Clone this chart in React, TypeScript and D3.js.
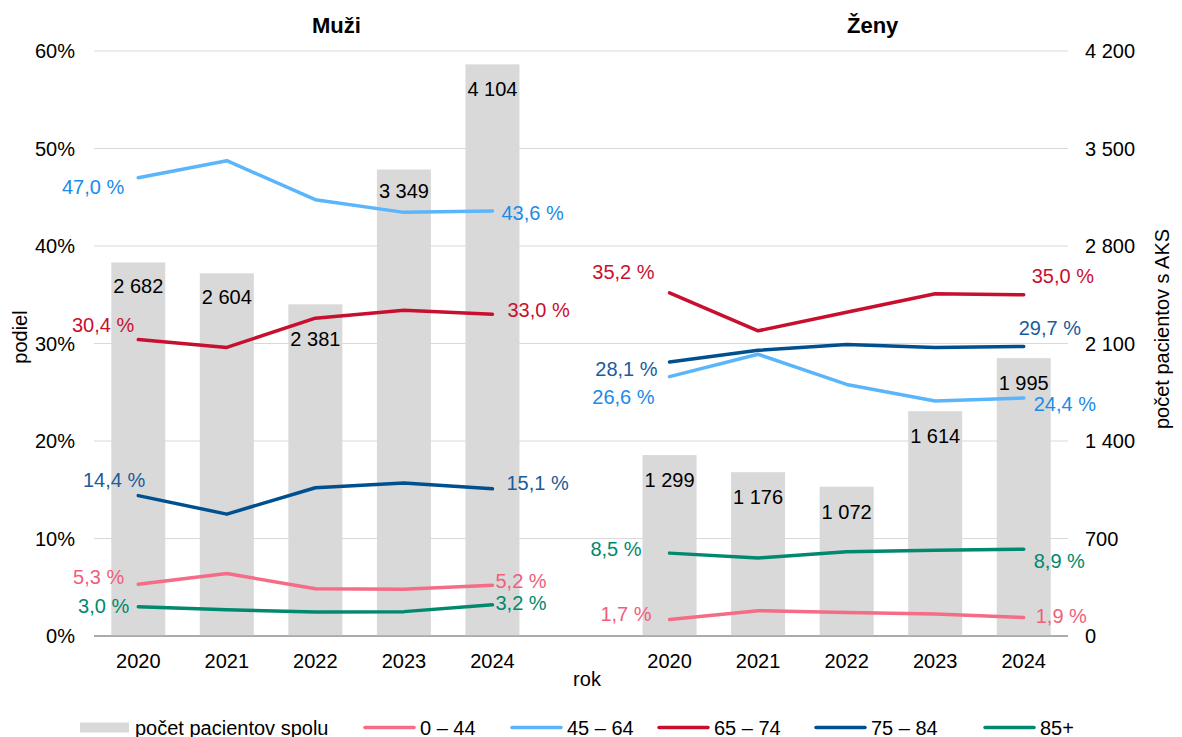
import React from "react";
import * as d3 from "d3";

const years = ["2020", "2021", "2022", "2023", "2024"];
const groups = ["Muži", "Ženy"];
const totalsMuzi = [2682, 2604, 2381, 3349, 4104];
const totalsZeny = [1299, 1176, 1072, 1614, 1995];
const age0_44Muzi = [5.3, 6.4, 4.85, 4.8, 5.2];
const age45_64Muzi = [47.0, 48.75, 44.75, 43.45, 43.6];
const age65_74Muzi = [30.4, 29.6, 32.6, 33.4, 33.0];
const age75_84Muzi = [14.4, 12.5, 15.2, 15.7, 15.1];
const age85Muzi = [3.0, 2.7, 2.45, 2.5, 3.2];
const age0_44Zeny = [1.7, 2.6, 2.4, 2.25, 1.9];
const age45_64Zeny = [26.6, 28.9, 25.8, 24.1, 24.4];
const age65_74Zeny = [35.2, 31.3, 33.2, 35.1, 35.0];
const age75_84Zeny = [28.1, 29.3, 29.9, 29.6, 29.7];
const age85Zeny = [8.5, 8.0, 8.65, 8.8, 8.9];
const leftTicks = [0, 10, 20, 30, 40, 50, 60];
const rightTicks = [0, 700, 1400, 2100, 2800, 3500, 4200];
const seriesNames = ["0 – 44", "45 – 64", "65 – 74", "75 – 84", "85+"];

const lineColors = ["#F56C86", "#5BB5FB", "#C8102E", "#00508F", "#00896E"];
const textColors = ["#F0607C", "#1A8BE8", "#C8102E", "#1B5C9C", "#00896E"];

// label offsets [dx, dy] (start label anchored end, end label anchored start)
const labelOffsetsMuzi = [
  [[-14, -7], [3, -4]],
  [[-14, 9], [9, 2]],
  [[-4, -15], [15, -4]],
  [[7, -16], [14, -6]],
  [[-9, -1], [3, -2]],
];
const labelOffsetsZeny = [
  [[-18, -5], [12, -1]],
  [[-15, 20], [10, 6]],
  [[-15, -21], [8, -19]],
  [[-12, 7], [-5, -18]],
  [[-28, -4], [10, 12]],
];
const barLabelOffsetsMuzi = [24, 24, 35, 21, 25];
const barLabelOffsetsZeny = [25, 25, 25, 25, 25];

const W = 1182;
const H = 737;
const FONT = "'Liberation Sans', Arial, sans-serif";
const FS = 20;

function fmtPct(v: number) {
  return v.toFixed(1).replace(".", ",") + " %";
}
function fmtNum(v: number) {
  return d3.format(",")(v).replace(/,/g, " ");
}

export default function App() {
  const cats = [
    ...years.map((y) => "M" + y),
    "gap",
    ...years.map((y) => "Z" + y),
  ];
  const x = d3
    .scaleBand<string>()
    .domain(cats)
    .range([94, 1068])
    .paddingInner(0.39)
    .paddingOuter(0.195);
  const yL = d3.scaleLinear().domain([0, 60]).range([636, 51]);
  const yR = d3.scaleLinear().domain([0, 4200]).range([636, 51]);
  const bw = x.bandwidth();
  const cx = (c: string) => (x(c) as number) + bw / 2;

  const panels = [
    {
      prefix: "M",
      totals: totalsMuzi,
      series: [age0_44Muzi, age45_64Muzi, age65_74Muzi, age75_84Muzi, age85Muzi],
      offsets: labelOffsetsMuzi,
      barOff: barLabelOffsetsMuzi,
    },
    {
      prefix: "Z",
      totals: totalsZeny,
      series: [age0_44Zeny, age45_64Zeny, age65_74Zeny, age75_84Zeny, age85Zeny],
      offsets: labelOffsetsZeny,
      barOff: barLabelOffsetsZeny,
    },
  ];

  const line = d3
    .line<[number, number]>()
    .x((d) => d[0])
    .y((d) => d[1]);

  const legendItems = [
    { x: 365, text: seriesNames[0], color: lineColors[0] },
    { x: 512, text: seriesNames[1], color: lineColors[1] },
    { x: 659, text: seriesNames[2], color: lineColors[2] },
    { x: 816, text: seriesNames[3], color: lineColors[3] },
    { x: 985, text: seriesNames[4], color: lineColors[4] },
  ];

  return (
    <svg
      width={W}
      height={H}
      style={{ position: "absolute", left: 0, top: 0, background: "#fff" }}
      fontFamily={FONT}
    >
      <rect x={0} y={0} width={W} height={H} fill="#fff" />
      {leftTicks.map((t) => (
        <line
          key={"g" + t}
          x1={94}
          x2={1068}
          y1={yL(t)}
          y2={yL(t)}
          stroke={t === 0 ? "#A6A6A6" : "#D9D9D9"}
          strokeWidth={t === 0 ? 1.5 : 1}
        />
      ))}
      {panels.map((p) =>
        p.totals.map((v, i) => {
          const c = p.prefix + years[i];
          return (
            <rect
              key={"b" + c}
              x={x(c)}
              y={yR(v)}
              width={bw}
              height={yR(0) - yR(v)}
              fill="#D9D9D9"
            />
          );
        })
      )}
      <line x1={94} x2={1068} y1={yL(0)} y2={yL(0)} stroke="#A6A6A6" strokeWidth={1.5} />
      {panels.map((p) =>
        p.totals.map((v, i) => {
          const c = p.prefix + years[i];
          return (
            <text
              key={"bl" + c}
              x={cx(c)}
              y={yR(v) + p.barOff[i]}
              textAnchor="middle"
              dominantBaseline="central"
              fontSize={FS}
              fill="#000"
            >
              {fmtNum(v)}
            </text>
          );
        })
      )}
      {panels.map((p) =>
        p.series.map((s, k) => {
          const pts: [number, number][] = s.map((v, i) => [
            cx(p.prefix + years[i]),
            yL(v),
          ]);
          return (
            <path
              key={"l" + p.prefix + k}
              d={line(pts) as string}
              fill="none"
              stroke={lineColors[k]}
              strokeWidth={3.5}
              strokeLinejoin="round"
              strokeLinecap="round"
            />
          );
        })
      )}
      {panels.map((p) =>
        p.series.map((s, k) => {
          const x0 = cx(p.prefix + years[0]);
          const x4 = cx(p.prefix + years[4]);
          const [o0, o4] = p.offsets[k];
          return (
            <g key={"ll" + p.prefix + k} fontSize={FS} fill={textColors[k]}>
              <text
                x={x0 + o0[0]}
                y={yL(s[0]) + o0[1]}
                textAnchor="end"
                dominantBaseline="central"
              >
                {fmtPct(s[0])}
              </text>
              <text
                x={x4 + o4[0]}
                y={yL(s[4]) + o4[1]}
                textAnchor="start"
                dominantBaseline="central"
              >
                {fmtPct(s[4])}
              </text>
            </g>
          );
        })
      )}
      {leftTicks.map((t) => (
        <text
          key={"lt" + t}
          x={75}
          y={yL(t)}
          textAnchor="end"
          dominantBaseline="central"
          fontSize={FS}
        >
          {t + "%"}
        </text>
      ))}
      {rightTicks.map((t) => (
        <text
          key={"rt" + t}
          x={1085}
          y={yR(t)}
          textAnchor="start"
          dominantBaseline="central"
          fontSize={FS}
        >
          {fmtNum(t)}
        </text>
      ))}
      {cats
        .filter((c) => c !== "gap")
        .map((c) => (
          <text
            key={"x" + c}
            x={cx(c)}
            y={661}
            textAnchor="middle"
            dominantBaseline="central"
            fontSize={FS}
          >
            {c.slice(1)}
          </text>
        ))}
      <text
        x={(cx("M2020") + cx("M2024")) / 2 + 21}
        y={25}
        textAnchor="middle"
        dominantBaseline="central"
        fontSize={22}
        fontWeight="bold"
      >
        {groups[0]}
      </text>
      <text
        x={(cx("Z2020") + cx("Z2024")) / 2 + 26}
        y={25}
        textAnchor="middle"
        dominantBaseline="central"
        fontSize={22}
        fontWeight="bold"
      >
        {groups[1]}
      </text>
      <text
        transform={`translate(20,337) rotate(-90)`}
        textAnchor="middle"
        dominantBaseline="central"
        fontSize={FS}
      >
        podiel
      </text>
      <text
        transform={`translate(1162,329) rotate(-90)`}
        textAnchor="middle"
        dominantBaseline="central"
        fontSize={FS}
      >
        počet pacientov s AKS
      </text>
      <text x={587} y={679} textAnchor="middle" dominantBaseline="central" fontSize={FS}>
        rok
      </text>
      <rect x={80} y={722.5} width={49} height={10} fill="#D9D9D9" />
      <text x={135} y={727.5} dominantBaseline="central" fontSize={FS}>
        počet pacientov spolu
      </text>
      {legendItems.map((it) => (
        <g key={"lg" + it.text}>
          <line
            x1={it.x}
            x2={it.x + 49}
            y1={727.5}
            y2={727.5}
            stroke={it.color}
            strokeWidth={3.5}
            strokeLinecap="round"
          />
          <text
            x={it.x + 55}
            y={727.5}
            dominantBaseline="central"
            fontSize={FS}
          >
            {it.text}
          </text>
        </g>
      ))}
    </svg>
  );
}
